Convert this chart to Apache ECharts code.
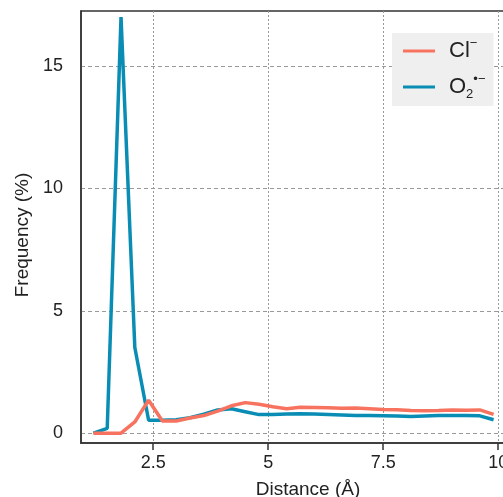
<!DOCTYPE html>
<html>
<head>
<meta charset="utf-8">
<script src="https://cdn.jsdelivr.net/npm/echarts@6/dist/echarts.min.js"></script>
<style>
  html, body { margin: 0; padding: 0; background: #fff; overflow: hidden; }
  /* the original figure is cut off on the right, so the chart is wider than the window */
  #chart { width: 540px; height: 497px; }
</style>
</head>
<body>
<div id="chart"></div>
<script>
// distance (Å) of each bin
const distances = [1.2, 1.5, 1.8, 2.1, 2.4, 2.7, 3.0, 3.3, 3.6, 3.9, 4.2, 4.5, 4.8, 5.1, 5.4,
  5.7, 6.0, 6.3, 6.6, 6.9, 7.2, 7.5, 7.8, 8.1, 8.4, 8.7, 9.0, 9.3, 9.6, 9.9];
const chloride = [0, 0, 0, 0.46, 1.35, 0.5, 0.5, 0.62, 0.72, 0.9, 1.12, 1.25, 1.18, 1.08, 1.0,
  1.06, 1.05, 1.04, 1.02, 1.03, 1.0, 0.97, 0.96, 0.93, 0.92, 0.93, 0.95, 0.94, 0.95, 0.77];
const superoxide = [0, 0.2, 17.0, 3.5, 0.53, 0.53, 0.55, 0.63, 0.78, 0.95, 1.0, 0.88, 0.76, 0.76, 0.78,
  0.8, 0.78, 0.76, 0.74, 0.72, 0.72, 0.71, 0.7, 0.68, 0.7, 0.72, 0.72, 0.72, 0.71, 0.55];
const xTicks = [2.5, 5, 7.5, 10];
const yTicks = [0, 5, 10, 15];

const chart = echarts.init(document.getElementById("chart"));

const pairs = (ys) => distances.map((d, i) => [d, ys[i]]);

chart.setOption({
  animation: false,
  backgroundColor: "#fff",
  textStyle: { fontFamily: "Liberation Sans, Arial, sans-serif" },
  grid: {
    left: 81,
    right: 5,
    top: 11,
    bottom: 54,
    outerBoundsMode: "none",
    show: true,
    borderColor: "#333",
    borderWidth: 1.5,
  },
  legend: {
    left: 392,
    top: 33,
    orient: "vertical",
    backgroundColor: "#efefef",
    padding: [4, 8, 5, 11],
    itemGap: 11,
    icon: "rect",
    itemWidth: 32,
    itemHeight: 3,
    formatter: (name) => (name === "Cl" ? "{m|Cl}{s|−}" : "{m|O}{b|2}{s|•−}"),
    textStyle: {
      color: "#222",
      padding: [0, 0, 0, 9],
      rich: {
        m: { fontSize: 22, lineHeight: 28, color: "#222" },
        s: { fontSize: 13, lineHeight: 13, verticalAlign: "top", color: "#222" },
        b: { fontSize: 13, lineHeight: 13, verticalAlign: "bottom", color: "#222" },
      },
    },
  },
  xAxis: {
    type: "value",
    min: 0.93,
    max: 10.8,
    name: "Distance (Å)",
    nameLocation: "middle",
    nameGap: 37,
    nameTextStyle: { fontSize: 19, color: "#222" },
    axisLine: { show: true, onZero: false, lineStyle: { color: "#333", width: 1.5 } },
    axisTick: { show: true, length: 7, customValues: xTicks, lineStyle: { color: "#333", width: 1.5 } },
    axisLabel: { fontSize: 18, color: "#222", margin: 11, customValues: xTicks },
    splitLine: {
      show: true,
      customValues: xTicks,
      lineStyle: { color: "#999", type: [2, 2], width: 1 },
    },
  },
  yAxis: {
    type: "value",
    min: -0.4,
    max: 17.25,
    name: "Frequency (%)",
    nameLocation: "middle",
    nameGap: 49,
    nameTextStyle: { fontSize: 19, color: "#222", padding: [0, 16, 0, 0] },
    axisLine: { show: true, onZero: false, lineStyle: { color: "#333", width: 1.5 } },
    axisTick: { show: false, customValues: yTicks },
    axisLabel: { fontSize: 18, color: "#222", margin: 18, customValues: yTicks },
    splitLine: {
      show: true,
      customValues: yTicks,
      lineStyle: { color: "#999", type: [4, 3], width: 1 },
    },
  },
  series: [
    {
      name: "Cl",
      type: "line",
      data: pairs(chloride),
      symbol: "none",
      lineStyle: { color: "#f7735f", width: 3.5 },
      itemStyle: { color: "#f7735f" },
      z: 3,
    },
    {
      name: "O2",
      type: "line",
      data: pairs(superoxide),
      symbol: "none",
      lineStyle: { color: "#0a8db4", width: 3.5 },
      itemStyle: { color: "#0a8db4" },
      z: 2,
    },
  ],
});
</script>
</body>
</html>
